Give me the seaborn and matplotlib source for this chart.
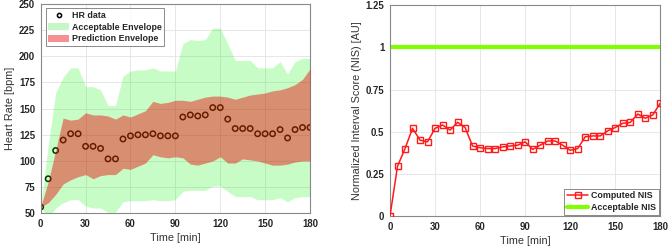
import numpy as np
import pandas as pd
import matplotlib
matplotlib.use("Agg")
import matplotlib.pyplot as plt
import seaborn as sns
from matplotlib.patches import Patch
from matplotlib.lines import Line2D

time = list(range(0, 181, 5))
hr = [56, 83, 110, 120, 126, 126, 114, 114, 112, 102, 102, 121, 124, 125, 125, 126, 124, 124, 124,
      142, 144, 143, 144, 151, 151, 140, 131, 131, 131, 126, 126, 126, 130, 122, 130, 132, 132]
pred_upper = [56, 80, 110, 141, 139, 140, 146, 144, 144, 143, 140, 144, 142, 145, 148, 157, 155, 156, 158,
              158, 157, 159, 161, 162, 162, 161, 159, 161, 163, 164, 165, 167, 168, 170, 173, 178, 188]
pred_lower = [56, 60, 68, 78, 82, 85, 87, 83, 86, 87, 87, 93, 92, 95, 98, 106, 104, 103, 104,
              103, 97, 96, 98, 100, 104, 98, 98, 102, 101, 100, 98, 96, 96, 97, 99, 100, 100]
acc_upper = [56, 115, 165, 180, 189, 189, 171, 171, 168, 153, 153, 181, 186, 187, 187, 189, 186, 186, 186,
             212, 216, 215, 216, 227, 227, 212, 196, 196, 196, 189, 189, 189, 195, 183, 195, 198, 198]
acc_lower = [56, 45, 55, 60, 63, 63, 57, 55, 55, 51, 51, 61, 62, 62, 62, 63, 62, 62, 63,
             71, 72, 72, 72, 76, 76, 71, 66, 66, 66, 63, 63, 63, 65, 61, 65, 66, 66]
nis = [0.0, 0.295, 0.40, 0.52, 0.45, 0.44, 0.52, 0.54, 0.51, 0.556, 0.525, 0.415, 0.405, 0.40, 0.40,
       0.41, 0.415, 0.42, 0.44, 0.395, 0.42, 0.445, 0.445, 0.42, 0.39, 0.40, 0.47, 0.475, 0.475,
       0.505, 0.525, 0.55, 0.555, 0.605, 0.58, 0.60, 0.67]
acc_nis = [1.0] * len(time)

hr_ticks = [50, 75, 100, 125, 150, 175, 200, 225, 250]
nis_ticks = [0, 0.25, 0.5, 0.75, 1.0, 1.25]
nis_ticklabels = ["0", "0.25", "0.5", "0.75", "1", "1.25"]
time_ticks = [0, 30, 60, 90, 120, 150, 180]

df = pd.DataFrame({"time": time, "hr": hr, "nis": nis, "acc": acc_nis})

sns.set_style("whitegrid")
plt.rcParams['font.family'] = ['Liberation Sans', 'DejaVu Sans']

fig = plt.figure(figsize=(6.69, 2.47), dpi=100)
ax1 = fig.add_axes([40.7/669, 1-213.3/247, (310-40.7)/669, (213.3-4)/247])
ax2 = fig.add_axes([390/669, 1-216/247, (660.3-390)/669, (216-5.3)/247])

TICK_FS = 6.9
LABEL_FS = 7.8
LEG_FS = 6.4

# Left panel
sns.scatterplot(data=df, x="time", y="hr", ax=ax1, marker='o', s=15, facecolor='none',
                edgecolor='black', linewidth=1.1, zorder=1, legend=False)
ax1.fill_between(time, acc_lower, acc_upper, color=(0.0, 0.95, 0.0), alpha=0.22, linewidth=0, zorder=2)
ax1.fill_between(time, pred_lower, pred_upper, color=(0.94, 0.0, 0.0), alpha=0.43, linewidth=0, zorder=3)
ax1.set_xlim(0, 180)
ax1.set_ylim(50, 250)
ax1.set_xticks(time_ticks)
ax1.set_yticks(hr_ticks)
ax1.set_xlabel("Time [min]", fontsize=LABEL_FS, color='#333333', labelpad=3)
ax1.set_ylabel("Heart Rate [bpm]", fontsize=LABEL_FS, color='#333333', labelpad=3)

leg_handles = [
    Line2D([], [], marker='o', linestyle='none', markerfacecolor='none', markeredgecolor='black',
           markersize=3.0, markeredgewidth=1.1),
    Patch(facecolor=(0.78, 0.97, 0.78), edgecolor='none'),
    Patch(facecolor=(0.97, 0.57, 0.57), edgecolor='none'),
]
leg1 = ax1.legend(leg_handles, ["HR data", "Acceptable Envelope", "Prediction Envelope"],
                  loc='upper left', bbox_to_anchor=(0.012, 0.988), prop=dict(size=LEG_FS, weight='bold'),
                  frameon=True, fancybox=False, edgecolor='#555555', handlelength=2.3, handleheight=0.9,
                  handletextpad=0.35, borderpad=0.3, labelspacing=0.3, borderaxespad=0.2)
leg1.get_frame().set_linewidth(0.6)

# Right panel
sns.lineplot(data=df, x="time", y="acc", ax=ax2, color='#80ff00', linewidth=3.0, zorder=2,
             label="Acceptable NIS")
sns.lineplot(data=df, x="time", y="nis", ax=ax2, color='#ff1a1a', linewidth=1.1, marker='s',
             markersize=5, markerfacecolor='none', markeredgecolor='#ff1a1a', markeredgewidth=1.0,
             zorder=3, label="Computed NIS")
ax2.set_xlim(0, 180)
ax2.set_ylim(0, 1.25)
ax2.set_xticks(time_ticks)
ax2.set_yticks(nis_ticks)
ax2.set_yticklabels(nis_ticklabels)
ax2.set_xlabel("Time [min]", fontsize=LABEL_FS, color='#333333', labelpad=3)
ax2.set_ylabel("Normalized Interval Score (NIS) [AU]", fontsize=LABEL_FS, color='#333333', labelpad=3)
h, l = ax2.get_legend_handles_labels()
order = [l.index("Computed NIS"), l.index("Acceptable NIS")]
leg2 = ax2.legend([h[i] for i in order], [l[i] for i in order], loc='lower right',
                  prop=dict(size=LEG_FS, weight='bold'), frameon=True, fancybox=False,
                  edgecolor='#555555', handlelength=2.4, handletextpad=0.35, borderpad=0.3,
                  labelspacing=0.3, borderaxespad=0.15)
leg2.get_frame().set_linewidth(0.6)

for ax in (ax1, ax2):
    ax.grid(True, color='#e3e3e3', linewidth=0.6)
    ax.set_axisbelow(True)
    for sp in ax.spines.values():
        sp.set_color('#888888')
        sp.set_linewidth(0.8)
    ax.tick_params(axis='both', length=0, pad=4)
    for lab in ax.get_xticklabels() + ax.get_yticklabels():
        lab.set_fontsize(TICK_FS)
        lab.set_fontweight('bold')
        lab.set_color('#262626')

fig.savefig("out.png", dpi=100)
